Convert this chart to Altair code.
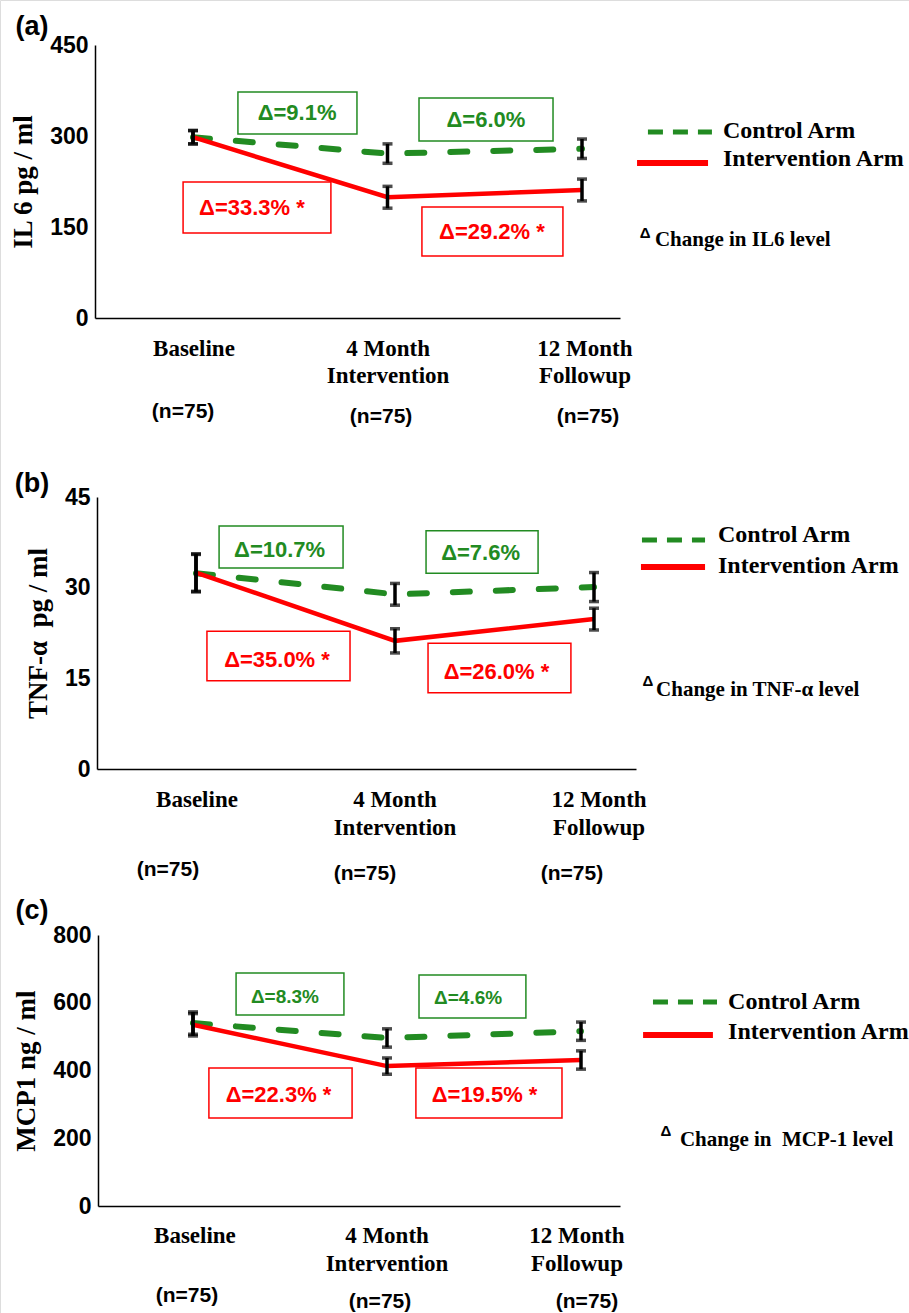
import altair as alt
import pandas as pd

# ---------------- data ----------------
time_points = [0, 1, 2]
x_label_line1 = ["Baseline", "4 Month", "12 Month"]
x_label_line2 = ["", "Intervention", "Followup"]
n_label = "(n=75)"

il6_control = [298, 271, 279]
il6_control_err = [11, 16, 16]
il6_interv = [298, 199, 211]
il6_interv_err = [11, 18, 18]
il6_control_delta = ["Δ=9.1%", "Δ=6.0%"]
il6_interv_delta = ["Δ=33.3% *", "Δ=29.2% *"]

tnf_control = [32.4, 28.9, 30.1]
tnf_control_err = [3.1, 1.8, 2.4]
tnf_interv = [32.5, 21.2, 24.8]
tnf_interv_err = [3.1, 2.0, 1.8]
tnf_control_delta = ["Δ=10.7%", "Δ=7.6%"]
tnf_interv_delta = ["Δ=35.0% *", "Δ=26.0% *"]

mcp_control = [540, 496, 516]
mcp_control_err = [33, 27, 27]
mcp_interv = [535, 413, 431]
mcp_interv_err = [33, 24, 27]
mcp_control_delta = ["Δ=8.3%", "Δ=4.6%"]
mcp_interv_delta = ["Δ=22.3% *", "Δ=19.5% *"]

legend_labels = ["Control Arm", "Intervention Arm"]

# ---------------- layout / style ----------------
W, H = 909, 1313
GREEN = "#228b22"
RED = "#ff0000"
SERIF = "Liberation Serif"
SANS = "Liberation Sans"
NBSP = "\u00a0"

panels = [
    dict(tag="(a)", ymax=450, yticks=[0, 150, 300, 450], ytitle="IL 6 pg / ml",
         note="Change in IL6 level",
         control=il6_control, control_err=il6_control_err,
         interv=il6_interv, interv_err=il6_interv_err,
         cdelta=il6_control_delta, idelta=il6_interv_delta,
         x_px=(95, 620), cat_px=(193, 194.5), y_px=(318, 45),
         tag_pos=(-0.828, 479.6),
         gbox=[(0.231, 0.843, 303.3, 372.5), (1.162, 1.851, 291.7, 362.6)],
         gtxt=[(0.535, 338), (1.506, 326)], gfs=22,
         rbox=[(-0.051, 0.709, 140.1, 224.2), (1.177, 1.902, 102, 183)],
         rtxt=[(0.303, 181.3), (1.537, 141.8)],
         cline=(2.339, 2.668, 306.6), iline=(2.283, 2.648, 255.5),
         ctext=(2.725, 308.2), itext=(2.725, 261.3),
         dmark=(2.324, 140.5), notepos=(2.375, 128.6),
         xl_y=(-51.1, -95.6), xl_x=(0.005, 1.003, 2.015),
         n_pos=[(-0.051, -154.9), (0.967, -163.2), (2.031, -163.2)]),
    dict(tag="(b)", ymax=45, yticks=[0, 15, 30, 45], ytitle="TNF-α" + NBSP + " pg / ml",
         note="Change in TNF-α level",
         control=tnf_control, control_err=tnf_control_err,
         interv=tnf_interv, interv_err=tnf_interv_err,
         cdelta=tnf_control_delta, idelta=tnf_interv_delta,
         x_px=(97, 636), cat_px=(196, 199), y_px=(769, 497),
         tag_pos=(-0.824, 47.2),
         gbox=[(0.116, 0.739, 33.26, 40.2), (1.156, 1.719, 32.4, 39.4)],
         gtxt=[(0.42, 36.2), (1.43, 35.7)], gfs=22,
         rbox=[(0.055, 0.774, 14.6, 22.8), (1.166, 1.884, 12.6, 20.8)],
         rtxt=[(0.407, 18.0), (1.51, 16.0)],
         cline=(2.241, 2.558, 37.9), iline=(2.236, 2.558, 33.4),
         ctext=(2.623, 38.7), itext=(2.623, 33.6),
         dmark=(2.271, 14.5), notepos=(2.312, 13.07),
         xl_y=(-5.13, -9.76), xl_x=(0.005, 1.0, 2.025),
         n_pos=[(-0.141, -16.7), (0.849, -17.4), (1.889, -17.4)]),
    dict(tag="(c)", ymax=800, yticks=[0, 200, 400, 600, 800], ytitle="MCP1 ng / ml",
         note="Change in" + NBSP + " MCP-1 level",
         control=mcp_control, control_err=mcp_control_err,
         interv=mcp_interv, interv_err=mcp_interv_err,
         cdelta=mcp_control_delta, idelta=mcp_interv_delta,
         x_px=(98, 620), cat_px=(193, 194), y_px=(1206, 935),
         tag_pos=(-0.830, 870.8),
         gbox=[(0.222, 0.778, 563.8, 687.8), (1.165, 1.716, 555, 681.9)],
         gtxt=[(0.474, 617), (1.418, 614)], gfs=19,
         rbox=[(0.082, 0.820, 259.8, 407.4), (1.149, 1.902, 259.8, 407.4)],
         rtxt=[(0.441, 327.7), (1.503, 327.7)],
         cline=(2.371, 2.701, 602.2), iline=(2.320, 2.680, 504.8),
         ctext=(2.758, 602), itext=(2.758, 513.6),
         dmark=(2.438, 220), notepos=(2.510, 194.8),
         xl_y=(-88.6, -171.2), xl_x=(0.01, 1.0, 1.979),
         n_pos=[(-0.031, -265.7), (0.964, -283.4), (2.031, -283.4)]),
]

layers = []
for p in panels:
    c0, sp = p["cat_px"]
    ax_l, ax_r = p["x_px"]
    xsc = alt.Scale(domain=[(ax_l - c0) / sp, (ax_r - c0) / sp], range=[ax_l, ax_r],
                    nice=False, zero=False)
    ysc = alt.Scale(domain=[0, p["ymax"]], range=list(p["y_px"]), nice=False, zero=False)

    def X(field="x", axis=None):
        return alt.X(field, type="quantitative", scale=xsc, axis=axis)

    def Y(field="y", axis=None):
        return alt.Y(field, type="quantitative", scale=ysc, axis=axis)

    yaxis = alt.Axis(orient="left", offset=-ax_l, values=p["yticks"], ticks=False, grid=False,
                     domainColor="black", domainWidth=1.5, labelFont=SANS, labelFontSize=23,
                     labelFontWeight="bold", labelColor="black", labelPadding=7,
                     title=p["ytitle"], titleFont=SERIF, titleFontSize=27,
                     titleFontWeight="bold", titleColor="black", titlePadding=12)
    xaxis = alt.Axis(orient="bottom", offset=p["y_px"][0] - H, labels=False, ticks=False,
                     grid=False, domainColor="black", domainWidth=1.5, title="")

    df_c = pd.DataFrame({"x": time_points, "y": p["control"]})
    df_i = pd.DataFrame({"x": time_points, "y": p["interv"]})
    err_rows = []
    for vals, errs in ((p["control"], p["control_err"]), (p["interv"], p["interv_err"])):
        for t, v, e in zip(time_points, vals, errs):
            err_rows.append({"x": t, "lo": v - e, "hi": v + e})
    df_err = pd.DataFrame(err_rows)
    df_caps = pd.DataFrame([{"x": r["x"], "y": r[k]} for r in err_rows for k in ("lo", "hi")])

    box_rows = [{"x": b[0], "x2": b[1], "y": b[2], "y2": b[3], "color": GREEN} for b in p["gbox"]]
    box_rows += [{"x": b[0], "x2": b[1], "y": b[2], "y2": b[3], "color": RED} for b in p["rbox"]]
    df_box = pd.DataFrame(box_rows)
    bt_rows = [{"x": t[0], "y": t[1], "text": s, "color": GREEN, "fs": p["gfs"]}
               for t, s in zip(p["gtxt"], p["cdelta"])]
    bt_rows += [{"x": t[0], "y": t[1], "text": s, "color": RED, "fs": 22}
                for t, s in zip(p["rtxt"], p["idelta"])]
    df_bt = pd.DataFrame(bt_rows)

    # boxes
    layers.append(alt.Chart(df_box).mark_rect(fill="white", fillOpacity=0, strokeWidth=1.5).encode(
        x=X(), x2="x2:Q", y=Y(), y2="y2:Q", stroke=alt.Stroke("color:N", scale=None)))
    # control line (carries the axes)
    layers.append(alt.Chart(df_c).mark_line(color=GREEN, strokeWidth=6, strokeDash=[17, 26],
                                            strokeCap="round").encode(
        x=X(axis=xaxis), y=Y(axis=yaxis)))
    # intervention line
    layers.append(alt.Chart(df_i).mark_line(color=RED, strokeWidth=4.5).encode(x=X(), y=Y()))
    # error bars
    layers.append(alt.Chart(df_err).mark_rule(color="black", strokeWidth=3.5).encode(
        x=X(), y=Y("lo"), y2="hi:Q"))
    layers.append(alt.Chart(df_caps).mark_tick(color="black", orient="horizontal", size=10,
                                               thickness=3.5).encode(x=X(), y=Y()))
    # box texts
    layers.append(alt.Chart(df_bt).mark_text(font=SANS, fontWeight="bold", baseline="middle",
                                             align="center").encode(
        x=X(), y=Y(), text="text:N", color=alt.Color("color:N", scale=None),
        size=alt.Size("fs:Q", scale=None)))
    # legend lines
    cl, il = p["cline"], p["iline"]
    layers.append(alt.Chart(pd.DataFrame([{"x": cl[0], "x2": cl[1], "y": cl[2]}])).mark_rule(
        color=GREEN, strokeWidth=5, strokeDash=[15, 10]).encode(x=X(), x2="x2:Q", y=Y()))
    layers.append(alt.Chart(pd.DataFrame([{"x": il[0], "x2": il[1], "y": il[2]}])).mark_rule(
        color=RED, strokeWidth=6).encode(x=X(), x2="x2:Q", y=Y()))
    # legend texts
    df_lt = pd.DataFrame([{"x": p["ctext"][0], "y": p["ctext"][1], "text": legend_labels[0]},
                          {"x": p["itext"][0], "y": p["itext"][1], "text": legend_labels[1]}])
    layers.append(alt.Chart(df_lt).mark_text(font=SERIF, fontWeight="bold", fontSize=24,
                                             align="left", baseline="middle", color="black").encode(
        x=X(), y=Y(), text="text:N"))
    # delta note
    layers.append(alt.Chart(pd.DataFrame([{"x": p["dmark"][0], "y": p["dmark"][1], "text": "Δ"}]))
                  .mark_text(font=SANS, fontWeight="bold", fontSize=15, align="center",
                             baseline="middle", color="black").encode(x=X(), y=Y(), text="text:N"))
    layers.append(alt.Chart(pd.DataFrame([{"x": p["notepos"][0], "y": p["notepos"][1],
                                           "text": p["note"]}]))
                  .mark_text(font=SERIF, fontWeight="bold", fontSize=21, align="left",
                             baseline="middle", color="black").encode(x=X(), y=Y(), text="text:N"))
    # x category labels
    xl_rows = []
    for xx, l1, l2 in zip(p["xl_x"], x_label_line1, x_label_line2):
        xl_rows.append({"x": xx, "y": p["xl_y"][0], "text": l1})
        if l2:
            xl_rows.append({"x": xx, "y": p["xl_y"][1], "text": l2})
    layers.append(alt.Chart(pd.DataFrame(xl_rows)).mark_text(
        font=SERIF, fontWeight="bold", fontSize=23, align="center", baseline="middle",
        color="black").encode(x=X(), y=Y(), text="text:N"))
    # n labels
    layers.append(alt.Chart(pd.DataFrame([{"x": a, "y": b, "text": n_label} for a, b in p["n_pos"]]))
                  .mark_text(font=SANS, fontWeight="bold", fontSize=21, align="center",
                             baseline="middle", color="black").encode(x=X(), y=Y(), text="text:N"))
    # panel tag
    layers.append(alt.Chart(pd.DataFrame([{"x": p["tag_pos"][0], "y": p["tag_pos"][1],
                                           "text": p["tag"]}]))
                  .mark_text(font=SANS, fontWeight="bold", fontSize=27, align="center",
                             baseline="middle", color="black").encode(x=X(), y=Y(), text="text:N"))

chart = alt.layer(*layers).resolve_scale(x="independent", y="independent").properties(
    width=W, height=H, autosize="none", padding=0
).configure_view(strokeWidth=0).configure(background="white")

chart.save("out.html", embed_options={"renderer": "svg", "actions": False})
